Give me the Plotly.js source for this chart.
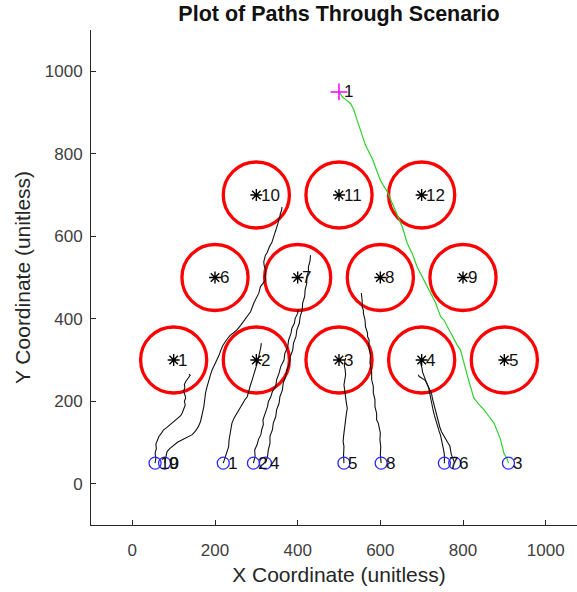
<!DOCTYPE html>
<html>
<head>
<meta charset="utf-8">
<script src="https://cdn.plot.ly/plotly-3.0.1.min.js"></script>
<style>
html, body { margin: 0; padding: 0; overflow: hidden; background: #fff; }
#chart { width: 587px; height: 592px; }
</style>
</head>
<body>
<div id="chart"></div>
<script>
// Obstacles (circle centres), labels and radius
const obsX = [100, 300, 500, 700, 900, 200, 400, 600, 800, 300, 500, 700];
const obsY = [300, 300, 300, 300, 300, 500, 500, 500, 500, 700, 700, 700];
const obsLabels = ['1','2','3','4','5','6','7','8','9','10','11','12'];
const obsRadius = 80;

// Goal points (blue circles) and labels
const goalX = [220, 293, 910, 322, 512, 780, 755, 602, 78, 55];
const goalY = [50, 50, 50, 50, 50, 50, 50, 50, 50, 50];
const goalLabels = ['1','2','3','4','5','6','7','8','9','10'];

// Start point (magenta +)
const startX = [500];
const startY = [950];
const startLabels = ['1'];

// Black paths (each starts at a goal circle)
const p10x = [55,57,55,58,57,61,64,70,75,83,91,99,106,112,117,121,125,128,126,129,127,124,127,126,130,134,138,140,137];
const p10y = [50,62,74,85,96,105,114,122,130,136,143,148,154,159,165,172,181,191,200,208,216,224,233,241,249,255,259,263,266];

const p9x = [78,80,84,91,100,110,122,133,145,153,160,165,168,171,173,175,177,181,185,189,193,199,205,210,214,219,226,236,245,253,262,270,278,286,294,300,306,310,316,322,321,323,319,318,322,326,332,338,342,346,349,352,354,357,358,361,362];
const p9y = [50,62,78,86,94,101,107,112,119,128,139,151,163,175,187,203,220,236,252,264,276,288,300,312,324,335,346,359,366,373,384,396,405,417,438,450,462,478,486,494,506,518,528,538,554,560,575,586,599,610,620,630,639,647,655,663,671];

const p1x = [220,224,228,233,234,237,239,241,246,253,259,266,272,278,280,282,286,290,294,298,300,302,304,306,308,310,311,312];
const p1y = [50,62,76,90,106,123,135,147,159,171,183,195,203,211,219,228,240,252,264,276,284,292,300,308,316,324,332,341];

const p2x = [293,297,296,302,305,311,313,317,316,322,327,329,335,339,347,349,355,359,367,369,376,378,384,386,392,394,400,401];
const p2y = [50,66,82,95,107,119,131,143,155,171,187,199,211,224,236,252,268,284,300,316,332,348,365,377,389,401,413,423];

const p4x = [322,327,329,333,333,339,341,347,349,355,357,363,365,371,374,380,382,388,390,396,398,404,406,411,412,417,418,422,422,426,426,430,431];
const p4y = [50,66,82,98,115,131,147,163,179,195,211,227,244,260,276,292,308,324,341,357,373,389,405,421,438,454,470,486,502,514,526,540,554];

const p5x = [512,511,512,510,511,513,515,516,518,520,518,516,514,512,514,516,515,513,514,516];
const p5y = [50,70,90,102,115,127,139,155,171,183,195,212,228,240,252,264,276,286,296,305];

const p8x = [602,600,601,599,600,596,595,591,591,587,587,583,583,579,579,575,576,572,573,569,569,564,563,559,559,556,556,554];
const p8y = [50,70,90,107,123,139,147,155,171,187,204,220,236,252,272,292,312,332,348,357,365,381,397,413,421,429,445,462];

const p7x = [755,755,753,751,748,746,742,738,734,731,728,726,724,722,719,717,713,709,705,702,701,700,698,697];
const p7y = [50,70,82,94,105,116,128,140,152,165,177,189,201,213,222,232,242,252,262,271,279,286,291,295];

const p6x = [780,776,772,770,768,763,758,753,748,744,741,738,734,731,729,726,724,720,717,712,707,702,697,694,692];
const p6y = [50,60,70,81,92,100,109,117,126,137,148,160,172,184,196,207,218,228,237,245,252,255,257,260,264];

// Green path (start -> goal 3)
const gx = [500,508,518,528,532,536,540,544,548,552,556,560,564,570,576,582,588,594,600,608,617,623,629,635,641,647,653,659,665,671,677,683,689,697,705,713,722,728,734,740,746,750,754,762,770,778,786,794,798,802,810,818,822,826,838,851,863,875,883,891,895,899,906,910];
const gy = [950,938,930,922,914,906,893,881,869,857,845,833,821,809,797,785,768,752,736,722,708,694,680,665,651,637,623,603,583,571,559,542,526,510,494,478,462,450,438,421,405,401,397,381,365,349,336,324,308,292,264,236,222,208,193,179,163,147,127,107,90,74,62,50];

const blackPaths = [[p10x,p10y],[p9x,p9y],[p1x,p1y],[p2x,p2y],[p4x,p4y],[p5x,p5y],[p8x,p8y],[p7x,p7y],[p6x,p6y]];

const FONT = 'Liberation Sans, Arial, Helvetica, sans-serif';
const traces = [];

blackPaths.forEach(function (p) {
  traces.push({x: p[0], y: p[1], type: 'scatter', mode: 'lines',
    line: {color: '#111111', width: 1.1}, hoverinfo: 'skip', showlegend: false});
});

traces.push({x: gx, y: gy, type: 'scatter', mode: 'lines',
  line: {color: '#2ed02e', width: 1.2}, hoverinfo: 'skip', showlegend: false});

traces.push({x: obsX, y: obsY, type: 'scatter', mode: 'markers',
  marker: {symbol: 'asterisk-open', size: 10, color: '#000000', line: {color: '#000000', width: 1.4}},
  showlegend: false});

traces.push({x: goalX, y: goalY, type: 'scatter', mode: 'markers',
  marker: {symbol: 'circle-open', size: 12, color: '#2a2aff', line: {color: '#2a2aff', width: 1.3}},
  showlegend: false});

traces.push({x: startX, y: startY, type: 'scatter', mode: 'markers',
  marker: {symbol: 'cross-thin-open', size: 12, color: '#ff00ff', line: {color: '#ff00ff', width: 1.5}},
  showlegend: false});

const shapes = obsX.map(function (cx, i) {
  return {type: 'circle', xref: 'x', yref: 'y', layer: 'below',
    x0: cx - obsRadius, x1: cx + obsRadius, y0: obsY[i] - obsRadius, y1: obsY[i] + obsRadius,
    line: {color: '#ff0000', width: 3.3}};
});

function labels(xs, ys, ts) {
  return xs.map(function (x, i) {
    return {x: x, y: ys[i], text: ts[i], xref: 'x', yref: 'y', showarrow: false,
      xanchor: 'left', yanchor: 'middle', xshift: 2.5, yshift: 0,
      font: {family: FONT, size: 17, color: '#111'}};
  });
}
const annotations = [].concat(labels(obsX, obsY, obsLabels), labels(goalX, goalY, goalLabels), labels(startX, startY, startLabels));

const axisCommon = {
  showgrid: false, zeroline: false, showline: true, linecolor: '#262626', linewidth: 1,
  ticks: 'inside', ticklen: 5, tickcolor: '#262626', tickwidth: 1, mirror: false,
  tickfont: {family: FONT, size: 17, color: '#404040'}, automargin: false
};

const layout = {
  width: 587, height: 592,
  margin: {l: 91, r: 0, t: 30, b: 67},
  paper_bgcolor: '#ffffff', plot_bgcolor: '#ffffff',
  title: {text: '<b>Plot of Paths Through Scenario</b>', x: 0.5, xref: 'paper', xanchor: 'center',
    y: 0.978, yref: 'container', yanchor: 'middle',
    font: {family: FONT, size: 21.5, color: '#111'}},
  xaxis: Object.assign({}, axisCommon, {range: [-100, 1100], tickvals: [0,200,400,600,800,1000],
    ticklabelstandoff: 10,
    title: {text: 'X Coordinate (unitless)', standoff: 7, font: {family: FONT, size: 21, color: '#262626'}}}),
  yaxis: Object.assign({}, axisCommon, {range: [-100, 1100], tickvals: [0,200,400,600,800,1000],
    ticklabelstandoff: 4,
    title: {text: 'Y Coordinate (unitless)', standoff: 8, font: {family: FONT, size: 21, color: '#262626'}}}),
  shapes: shapes,
  annotations: annotations,
  showlegend: false
};

Plotly.newPlot('chart', traces, layout, {displayModeBar: false, staticPlot: true, responsive: false});
</script>
</body>
</html>
